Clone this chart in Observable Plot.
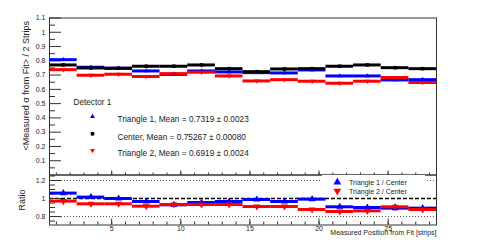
<!DOCTYPE html>
<html><head><meta charset="utf-8">
<script src="https://cdn.jsdelivr.net/npm/d3@7"></script>
<script src="https://cdn.jsdelivr.net/npm/@observablehq/plot@0.6"></script>
<style>
body{margin:0;background:#fff;font-family:"Liberation Sans",Arial,sans-serif;}
#chart{position:relative;width:484px;height:250px;overflow:hidden;background:#fff;}
#chart svg{position:absolute;left:0;overflow:visible;}
#legend2{position:absolute;left:322px;top:175px;width:103px;height:21px;background:#fff;}
</style></head><body><div id="chart"></div>
<script>
// ---- data ----
const binCenters = [1.5,3.5,5.5,7.5,9.5,11.5,13.5,15.5,17.5,19.5,21.5,23.5,25.5,27.5];
const binWidth = 2;
const triangle1 = [0.808,0.755,0.748,0.729,0.705,0.729,0.722,0.717,0.715,0.736,0.694,0.694,0.666,0.668];
const center    = [0.771,0.750,0.748,0.762,0.762,0.771,0.745,0.724,0.743,0.745,0.762,0.771,0.752,0.745];
const triangle2 = [0.738,0.699,0.706,0.690,0.710,0.720,0.694,0.659,0.668,0.657,0.643,0.657,0.683,0.648];
const ratio1    = [1.060,1.016,1.000,0.967,0.930,0.956,0.967,0.989,0.967,0.993,0.908,0.900,0.893,0.893];
const ratio2    = [0.971,0.941,0.941,0.915,0.933,0.933,0.933,0.911,0.911,0.878,0.856,0.863,0.908,0.878];
const ratioErr1 = [0.012,0.012,0.012,0.012,0.020,0.012,0.012,0.012,0.012,0.012,0.015,0.015,0.035,0.015];
const ratioErr2 = [0.015,0.015,0.015,0.015,0.020,0.015,0.015,0.015,0.015,0.015,0.015,0.015,0.030,0.015];
const topYTicks = [0.1,0.2,0.3,0.4,0.5,0.6,0.7,0.8,0.9,1.0,1.1];
const topYMinor = [0.05,0.15,0.25,0.35,0.45,0.55,0.65,0.75,0.85,0.95,1.05];
const ratioYTicks = [0.8,1.0,1.2];
const ratioYMinor = [0.75,0.85,0.9,0.95,1.05,1.1,1.15,1.25];
const refLines = [0.8,1.2];
const unityLine = [1];
const xTicks = [5,10,15,20,25];
const xMinor = d3.range(1,29);
const legendTitle = "Detector 1";
const legendLabels = ["Triangle 1, Mean = 0.7319 \u00b1 0.0023","Center, Mean = 0.75267 \u00b1 0.00080","Triangle 2, Mean = 0.6919 \u00b1 0.0024"];
const ratioLabels = ["Triangle 1 / Center","Triangle 2 / Center"];
const yTitle = "<Measured \u03c3 from Fit> / 2 Strips";
const yTitle2 = "Ratio";
const xTitle = "Measured Position from Fit [strips]";

const BLUE = "#0000ff", RED = "#ff0000", BLACK = "#000000";
const triDown = {draw(ctx, size){
  const y = -Math.sqrt(size / (Math.sqrt(3) * 3));
  ctx.moveTo(0, -y * 2); ctx.lineTo(-Math.sqrt(3) * y, y); ctx.lineTo(Math.sqrt(3) * y, y); ctx.closePath();
}};
const fmt = d => d3.format("~g")(d);
const FONT = "Liberation Sans, Arial, sans-serif";

const rowsTop = binCenters.map((x,i)=>({x, t1:triangle1[i], c:center[i], t2:triangle2[i]}));
const rowsRatio = binCenters.map((x,i)=>({x, r1:ratio1[i], r2:ratio2[i], e1:ratioErr1[i], e2:ratioErr2[i]}));
const lo = d => d.x - binWidth/2, hi = d => d.x + binWidth/2;

const topPlot = Plot.plot({
  width:484, height:175, marginTop:17.5, marginBottom:0.5, marginLeft:49, marginRight:48,
  x:{domain:[0.5,28.5], axis:null}, y:{domain:[0,1.1], axis:null},
  style:{fontFamily:FONT, background:"transparent", overflow:"visible"},
  marks:[
    Plot.axisY(topYMinor, {tickSize:-6, tickFormat:()=>"", label:null, stroke:"#333"}),
    Plot.axisY(topYTicks, {tickSize:-12, tickFormat:()=>"", label:null, stroke:"#333"}),
    Plot.axisY(topYTicks, {tickSize:0, tickPadding:4, tickFormat:fmt, label:null, fontSize:7, fill:"#222"}),
    Plot.axisX(xMinor, {anchor:"bottom", tickSize:-2, tickFormat:()=>"", label:null, stroke:"#333"}),
    Plot.axisX(xTicks, {anchor:"bottom", tickSize:-4, tickFormat:()=>"", label:null, stroke:"#333"}),
    Plot.ruleY(rowsTop, {y:"t1", x1:lo, x2:hi, stroke:BLUE, strokeWidth:3}),
    Plot.ruleY(rowsTop, {y:"t2", x1:lo, x2:hi, stroke:RED, strokeWidth:3}),
    Plot.ruleY(rowsTop, {y:"c", x1:lo, x2:hi, stroke:BLACK, strokeWidth:3}),
    Plot.dot(rowsTop, {x:"x", y:"t1", symbol:"triangle", r:1.8, fill:BLUE, stroke:null}),
    Plot.dot(rowsTop, {x:"x", y:"t2", symbol:triDown, r:1.8, fill:RED, stroke:null}),
    Plot.dot(rowsTop, {x:"x", y:"c", symbol:"square", r:2, fill:BLACK, stroke:null}),
    Plot.frame({stroke:"#333"}),
    Plot.text([legendTitle], {text:d=>d, frameAnchor:"top-left", dx:24, dy:81, textAnchor:"start", fontSize:8.2, fill:"#222"}),
    Plot.dot([0], {frameAnchor:"top-left", dx:43, dy:98.5, symbol:"triangle", r:1.8, fill:BLUE, stroke:null}),
    Plot.dot([0], {frameAnchor:"top-left", dx:43, dy:115.8, symbol:"square", r:2, fill:BLACK, stroke:null}),
    Plot.dot([0], {frameAnchor:"top-left", dx:43, dy:132.5, symbol:triDown, r:1.8, fill:RED, stroke:null}),
    Plot.text([legendLabels[0]], {text:d=>d, frameAnchor:"top-left", dx:68, dy:98.5, textAnchor:"start", fontSize:8.3, fill:"#222"}),
    Plot.text([legendLabels[1]], {text:d=>d, frameAnchor:"top-left", dx:68, dy:115.8, textAnchor:"start", fontSize:8.3, fill:"#222"}),
    Plot.text([legendLabels[2]], {text:d=>d, frameAnchor:"top-left", dx:68, dy:132.5, textAnchor:"start", fontSize:8.3, fill:"#222"}),
    Plot.text([yTitle], {text:d=>d, frameAnchor:"top-left", dx:-27, dy:3, rotate:-90, textAnchor:"end", fontSize:9, fill:"#222"})
  ]
});
topPlot.style.top = "0px";

const bottomPlot = Plot.plot({
  width:484, height:76, marginTop:0.5, marginBottom:25.5, marginLeft:49, marginRight:48,
  x:{domain:[0.5,28.5], axis:null}, y:{domain:[0.706,1.261], axis:null},
  style:{fontFamily:FONT, background:"transparent", overflow:"visible"},
  marks:[
    Plot.ruleY(refLines, {y:d=>d, stroke:"#555", strokeDasharray:"1,2"}),
    Plot.ruleY(unityLine, {y:d=>d, stroke:BLACK, strokeWidth:1.4, strokeDasharray:"4,2"}),
    Plot.axisY(ratioYMinor, {tickSize:-6, tickFormat:()=>"", label:null, stroke:"#333"}),
    Plot.axisY(ratioYTicks, {tickSize:-12, tickFormat:()=>"", label:null, stroke:"#333"}),
    Plot.axisY(ratioYTicks, {tickSize:0, tickPadding:4, tickFormat:fmt, label:null, fontSize:7, fill:"#222"}),
    Plot.axisX(xMinor, {anchor:"bottom", tickSize:-3, tickFormat:()=>"", label:null, stroke:"#333"}),
    Plot.axisX(xTicks, {anchor:"bottom", tickSize:-6, tickFormat:()=>"", label:null, stroke:"#333"}),
    Plot.axisX(xTicks, {anchor:"bottom", tickSize:0, tickPadding:1, tickFormat:fmt, label:null, fontSize:7, fill:"#222"}),
    Plot.ruleY(rowsRatio, {y:"r1", x1:lo, x2:hi, stroke:BLUE, strokeWidth:3}),
    Plot.ruleY(rowsRatio, {y:"r2", x1:lo, x2:hi, stroke:RED, strokeWidth:3}),
    Plot.ruleX(rowsRatio, {x:"x", y1:d=>d.r1-d.e1, y2:d=>d.r1+d.e1, stroke:BLUE, strokeWidth:1.2}),
    Plot.ruleX(rowsRatio, {x:"x", y1:d=>d.r2-d.e2, y2:d=>d.r2+d.e2, stroke:RED, strokeWidth:1.2}),
    Plot.dot(rowsRatio, {x:"x", y:"r1", symbol:"triangle", r:2.6, fill:BLUE, stroke:null}),
    Plot.dot(rowsRatio, {x:"x", y:"r2", symbol:triDown, r:2.6, fill:RED, stroke:null}),
    Plot.frame({stroke:"#333"}),
    Plot.text([yTitle2], {text:d=>d, frameAnchor:"left", dx:-27, rotate:-90, textAnchor:"middle", fontSize:9, fill:"#222"}),
    Plot.text([xTitle], {text:d=>d, frameAnchor:"bottom-right", dx:0, dy:10, textAnchor:"end", fontSize:7, fill:"#222"})
  ]
});
bottomPlot.style.top = "174px";

const chart = document.getElementById("chart");
chart.appendChild(topPlot);
chart.appendChild(bottomPlot);

// ratio legend box
const leg = document.createElement("div");
leg.id = "legend2";
const upPath = d3.symbol(d3.symbolTriangle, 26)();
const tdPath = d3.symbol(triDown, 26)();
leg.innerHTML = `<svg width="103" height="21" style="position:absolute;left:0;top:0">
  <path d="${upPath}" transform="translate(15.3,7.3)" fill="${BLUE}"/>
  <path d="${tdPath}" transform="translate(15.3,16)" fill="${RED}"/>
  <text x="27" y="9.8" font-size="7" fill="#222" font-family="${FONT}">${ratioLabels[0]}</text>
  <text x="27" y="18.5" font-size="7" fill="#222" font-family="${FONT}">${ratioLabels[1]}</text>
</svg>`;
chart.appendChild(leg);
</script>
</body></html>
